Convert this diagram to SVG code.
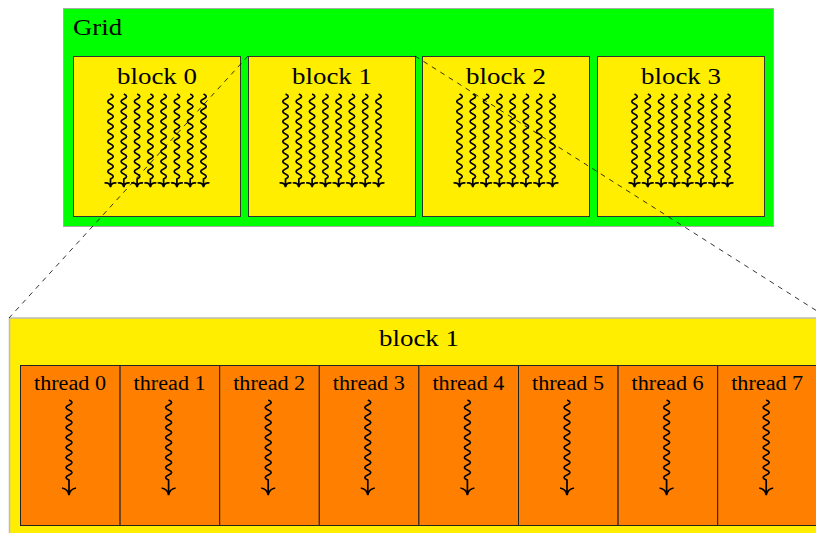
<svg xmlns="http://www.w3.org/2000/svg" xmlns:xlink="http://www.w3.org/1999/xlink" width="816" height="533" viewBox="0 0 816 533">
<style>
text{font-family:"Liberation Serif","Times New Roman",serif;fill:#000}
.grid{fill:#00ff00;stroke:#aaa;stroke-width:1}
.blk{fill:#ffee00;stroke:#333;stroke-width:1}
.big{fill:#ffee00;stroke:#bbb;stroke-width:1.5}
.thr{fill:#ff8000;stroke:#222;stroke-width:1}
.wave{fill:none;stroke:#000;stroke-width:1.7}
.dash{fill:none;stroke:#000;stroke-width:0.8;stroke-dasharray:5,5}
.bl{font-size:24px;text-anchor:middle}
.tl{font-size:20px;text-anchor:middle}
</style>
<defs>
<path id="wb" class="wave" d="M0,0 q5.5,2.5 0,5 t0,5 t0,5 t0,5 t0,5 t0,5 t0,5 t0,5 t0,5 t0,5 t0,5 t0,5 t0,5 t0,5 t0,5 t0,5 t0,5 l0,8 M-6,89 Q-1,88 0,93 Q1,88 6,89"/>
<path id="wt" class="wave" d="M0,0 q6,2.5 0,5 t0,5 t0,5 t0,5 t0,5 t0,5 t0,5 t0,5 t0,5 t0,5 t0,5 t0,5 t0,5 t0,5 t0,5 t0,5 l0,15 M-7,88 Q-1,89 0,95 Q1,89 7,88"/>
<g id="w8">
<use xlink:href="#wb" x="-46.5"/><use xlink:href="#wb" x="-33.2"/><use xlink:href="#wb" x="-19.9"/><use xlink:href="#wb" x="-6.6"/>
<use xlink:href="#wb" x="6.6"/><use xlink:href="#wb" x="19.9"/><use xlink:href="#wb" x="33.2"/><use xlink:href="#wb" x="46.5"/>
</g>
</defs>
<rect width="816" height="533" fill="#fff"/>
<g id="grid">
<rect class="grid" x="63.5" y="8.5" width="710" height="218"/>
<text x="73" y="35" font-size="24" textLength="49" lengthAdjust="spacingAndGlyphs">Grid</text>
</g>
<g id="block0"><rect class="blk" x="73.5" y="56.5" width="167" height="160"/><text class="bl" x="157" y="84" textLength="80" lengthAdjust="spacingAndGlyphs">block 0</text><use xlink:href="#w8" x="157" y="94"/></g>
<g id="block1"><rect class="blk" x="248.5" y="56.5" width="167" height="160"/><text class="bl" x="332" y="84" textLength="80" lengthAdjust="spacingAndGlyphs">block 1</text><use xlink:href="#w8" x="332" y="94"/></g>
<g id="block2"><rect class="blk" x="422.5" y="56.5" width="167" height="160"/><text class="bl" x="506" y="84" textLength="80" lengthAdjust="spacingAndGlyphs">block 2</text><use xlink:href="#w8" x="506" y="94"/></g>
<g id="block3"><rect class="blk" x="597.5" y="56.5" width="167" height="160"/><text class="bl" x="681" y="84" textLength="80" lengthAdjust="spacingAndGlyphs">block 3</text><use xlink:href="#w8" x="681" y="94"/></g>
<g id="block1-detail">
<rect class="big" x="9.5" y="318" width="830" height="230"/>
<text class="bl" x="419" y="346" textLength="80" lengthAdjust="spacingAndGlyphs">block 1</text>
</g>
<g id="thread0"><rect class="thr" x="20.5" y="365.5" width="99.6" height="160"/><text class="tl" x="70" y="390" textLength="72" lengthAdjust="spacingAndGlyphs">thread 0</text><use xlink:href="#wt" x="69" y="400"/></g>
<g id="thread1"><rect class="thr" x="120.1" y="365.5" width="99.6" height="160"/><text class="tl" x="169.6" y="390" textLength="72" lengthAdjust="spacingAndGlyphs">thread 1</text><use xlink:href="#wt" x="168.6" y="400"/></g>
<g id="thread2"><rect class="thr" x="219.7" y="365.5" width="99.6" height="160"/><text class="tl" x="269.2" y="390" textLength="72" lengthAdjust="spacingAndGlyphs">thread 2</text><use xlink:href="#wt" x="268.2" y="400"/></g>
<g id="thread3"><rect class="thr" x="319.3" y="365.5" width="99.6" height="160"/><text class="tl" x="368.8" y="390" textLength="72" lengthAdjust="spacingAndGlyphs">thread 3</text><use xlink:href="#wt" x="367.8" y="400"/></g>
<g id="thread4"><rect class="thr" x="418.9" y="365.5" width="99.6" height="160"/><text class="tl" x="468.4" y="390" textLength="72" lengthAdjust="spacingAndGlyphs">thread 4</text><use xlink:href="#wt" x="467.4" y="400"/></g>
<g id="thread5"><rect class="thr" x="518.5" y="365.5" width="99.6" height="160"/><text class="tl" x="568" y="390" textLength="72" lengthAdjust="spacingAndGlyphs">thread 5</text><use xlink:href="#wt" x="567" y="400"/></g>
<g id="thread6"><rect class="thr" x="618.1" y="365.5" width="99.6" height="160"/><text class="tl" x="667.6" y="390" textLength="72" lengthAdjust="spacingAndGlyphs">thread 6</text><use xlink:href="#wt" x="666.6" y="400"/></g>
<g id="thread7"><rect class="thr" x="717.7" y="365.5" width="99.6" height="160"/><text class="tl" x="767.2" y="390" textLength="72" lengthAdjust="spacingAndGlyphs">thread 7</text><use xlink:href="#wt" x="766.2" y="400"/></g>
<g id="connectors">
<line class="dash" x1="248" y1="56" x2="9" y2="318"/>
<line class="dash" x1="415" y1="56" x2="828" y2="318"/>
</g>
</svg>
